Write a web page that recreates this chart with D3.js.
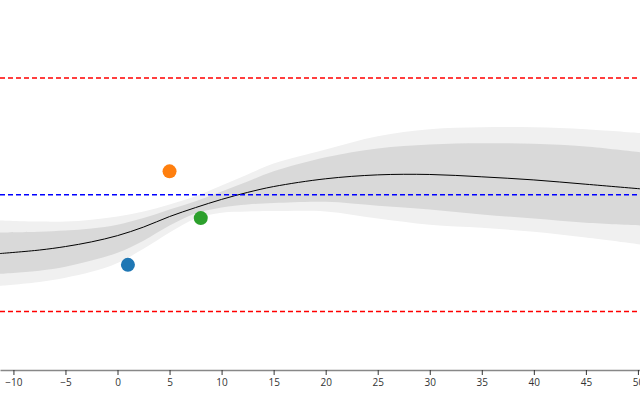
<!DOCTYPE html>
<html>
<head>
<meta charset="utf-8">
<script src="https://cdn.jsdelivr.net/npm/d3@7"></script>
<style>
  body { margin: 0; background: #fff; }
  .axis text { font-family: "Open Sans", sans-serif; font-size: 10px; fill: #333; }
  .axis path { stroke: #888; stroke-width: 1.5; }
  .axis line { stroke: #333; }
</style>
</head>
<body>
<div id="chart"></div>
<script>
// gaussian process fit
var gpX     = [-11.3, -7.5, -5, -2.5, 0, 2.5, 5, 7.5, 10, 12.5, 15, 20, 25, 30, 35, 40, 45, 50.3];
var gpMean  = [-1.51, -1.42, -1.33, -1.21, -1.05, -0.83, -0.56, -0.33, -0.12, 0.06, 0.21, 0.41, 0.51, 0.52, 0.46, 0.38, 0.27, 0.15];
var innerHi = [-0.97, -0.95, -0.92, -0.87, -0.77, -0.60, -0.38, -0.17, 0.08, 0.34, 0.60, 0.96, 1.19, 1.29, 1.32, 1.31, 1.24, 1.09];
var innerLo = [-2.03, -1.95, -1.85, -1.69, -1.49, -1.18, -0.79, -0.48, -0.33, -0.25, -0.21, -0.18, -0.28, -0.38, -0.51, -0.61, -0.72, -0.79];
var outerHi = [-0.66, -0.69, -0.69, -0.64, -0.56, -0.43, -0.25, -0.04, 0.24, 0.52, 0.80, 1.16, 1.50, 1.68, 1.73, 1.73, 1.68, 1.58];
var outerLo = [-2.34, -2.24, -2.13, -1.98, -1.75, -1.39, -0.97, -0.61, -0.46, -0.43, -0.42, -0.43, -0.61, -0.77, -0.85, -0.95, -1.10, -1.28];

// observations
var obsX = [1, 5, 8];
var obsY = [-1.8, 0.6, -0.6];
var obsColour = ["#1f77b4", "#ff7f0e", "#2ca02c"];

// reference lines
var limitY = [3, -3];
var centreY = 0;

var xTicks = [-10, -5, 0, 5, 10, 15, 20, 25, 30, 35, 40, 45, 50];

var w = 640, h = 400;
var x = d3.scaleLinear().domain([-11.29, 50.2]).range([0, w]);
var y = d3.scaleLinear().domain([-4.5, 5]).range([370, 0]);

var svg = d3.select("#chart").append("svg")
  .attr("width", w).attr("height", h);

var rows = gpX.map(function(v, i) {
  return { x: v, m: gpMean[i], ih: innerHi[i], il: innerLo[i], oh: outerHi[i], ol: outerLo[i] };
});

var curve = d3.curveCatmullRom.alpha(0.5);

function band(hi, lo) {
  return d3.area()
    .curve(curve)
    .x(function(d) { return x(d.x); })
    .y0(function(d) { return y(d[lo]); })
    .y1(function(d) { return y(d[hi]); });
}

svg.append("path").datum(rows)
  .attr("d", band("oh", "ol"))
  .style("fill", "#f0f0f0");

svg.append("path").datum(rows)
  .attr("d", band("ih", "il"))
  .style("fill", "#d9d9d9");

svg.append("path").datum(rows)
  .attr("d", d3.line().curve(curve)
    .x(function(d) { return x(d.x); })
    .y(function(d) { return y(d.m); }))
  .style("fill", "none")
  .style("stroke", "#000")
  .style("stroke-width", 1);

svg.selectAll(".limit").data(limitY).enter().append("line")
  .attr("class", "limit")
  .attr("x1", 0).attr("x2", w)
  .attr("y1", function(d) { return y(d); })
  .attr("y2", function(d) { return y(d); })
  .style("stroke", "#ff0000")
  .style("stroke-width", 1.5)
  .style("stroke-dasharray", "5,3");

svg.append("line")
  .attr("x1", 0).attr("x2", w)
  .attr("y1", y(centreY)).attr("y2", y(centreY))
  .style("stroke", "#0000ff")
  .style("stroke-width", 1.5)
  .style("stroke-dasharray", "5,3");

svg.selectAll(".obs").data(obsX).enter().append("circle")
  .attr("class", "obs")
  .attr("cx", function(d) { return x(d); })
  .attr("cy", function(d, i) { return y(obsY[i]); })
  .attr("r", 7)
  .style("fill", function(d, i) { return obsColour[i]; });

svg.append("g")
  .attr("class", "axis")
  .attr("transform", "translate(0," + y.range()[0] + ")")
  .call(d3.axisBottom(x).tickValues(xTicks).tickSize(5).tickSizeOuter(0).tickPadding(4));
</script>
</body>
</html>
